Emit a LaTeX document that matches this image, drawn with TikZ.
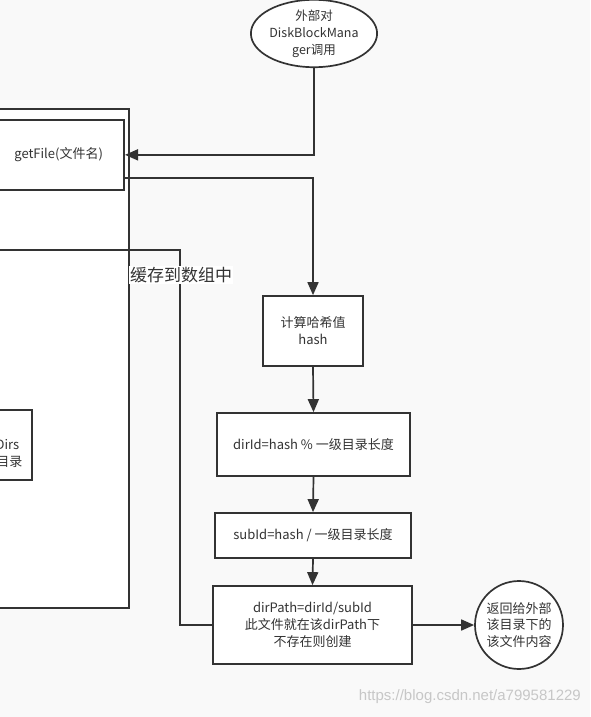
\documentclass[tikz,border=0pt]{standalone}
\usepackage{fontspec}
\setmainfont{Noto Sans CJK SC}
\newfontfamily\wmfont{Liberation Sans}
\usetikzlibrary{shapes.geometric,arrows.meta}
\definecolor{ln}{HTML}{333333}
\definecolor{bg}{HTML}{F9F9F9}
\definecolor{tx}{HTML}{333333}
\tikzset{
  box/.style={draw=ln, line width=1.7pt, fill=white, inner sep=0pt, text=tx,
    align=center, font={\fontsize{13}{17}\selectfont}},
  conn/.style={draw=ln, line width=1.7pt},
  arr/.style={conn, -{Triangle[length=13pt,width=11pt]}},
  txt/.style={text=tx, inner sep=0pt, font={\fontsize{13}{17}\selectfont}},
}
\begin{document}
\begin{tikzpicture}[x=1pt,y=-1pt]
\useasboundingbox (0,0) rectangle (590,717);
\fill[bg] (0,0) rectangle (590,717);
\clip (0,0) rectangle (590,717);
% left containers
\node[box, minimum width=160, minimum height=499, anchor=north east] (outer) at (130,108) {};
\node[box, minimum width=131, minimum height=70, anchor=north east] (getFile) at (125,119) {getFile(文件名)};
\node[box, minimum width=60, minimum height=70, anchor=north east] (dirs) at (33,409) {};
\node[txt, anchor=east] (dirsA) at (19.5,445) {Dirs};
\node[txt, anchor=east] (dirsB) at (22.5,462) {目录};
% right flow
\node[box, ellipse, minimum width=124, minimum height=65, font={\fontsize{12.5}{17}\selectfont}] (ell) at (314,33.5) {外部对\\DiskBlockMana\\ger调用};
\node[box, minimum width=100, minimum height=70] (hash) at (313,331) {计算哈希值\\hash};
\node[box, minimum width=193, minimum height=63] (dirId) at (313.5,444.5) {dirId=hash \% 一级目录长度};
\node[box, minimum width=196, minimum height=45] (subId) at (313,535.5) {subId=hash / 一级目录长度};
\node[box, minimum width=199, minimum height=78] (dirPath) at (312.5,625) {dirPath=dirId/subId\\此文件就在该dirPath下\\不存在则创建};
\node[box, circle, minimum size=88, font={\fontsize{13}{16.5}\selectfont}] (ret) at (519,625) {返回给外部\\该目录下的\\该文件内容};
% connectors
\draw[arr] (ell.south) |- (getFile.east);
\draw[arr] ([yshift=-23pt]getFile.east) -| (hash.north);
\draw[arr] (hash.south) -- (dirId.north);
\draw[arr] (dirId.south) -- (subId.north);
\draw[arr] (subId.south) -- (dirPath.north);
\draw[arr] (dirPath.east) -- (ret.west);
\coordinate (cacheC) at (180,250);
\coordinate (cacheL) at (-5,250);
\draw[conn] (dirPath.west) -| (cacheC) -- (cacheL);
\node[fill=white, text=tx, inner sep=1pt, font={\fontsize{17}{20}\selectfont}] (cacheLbl) at (181,275) {缓存到数组中};
% watermark
\node[text=black!22, inner sep=0pt, anchor=east, font={\wmfont\fontsize{15}{18}\selectfont}] (wm) at (581,697) {https://blog.csdn.net/a799581229};
\end{tikzpicture}
\end{document}
